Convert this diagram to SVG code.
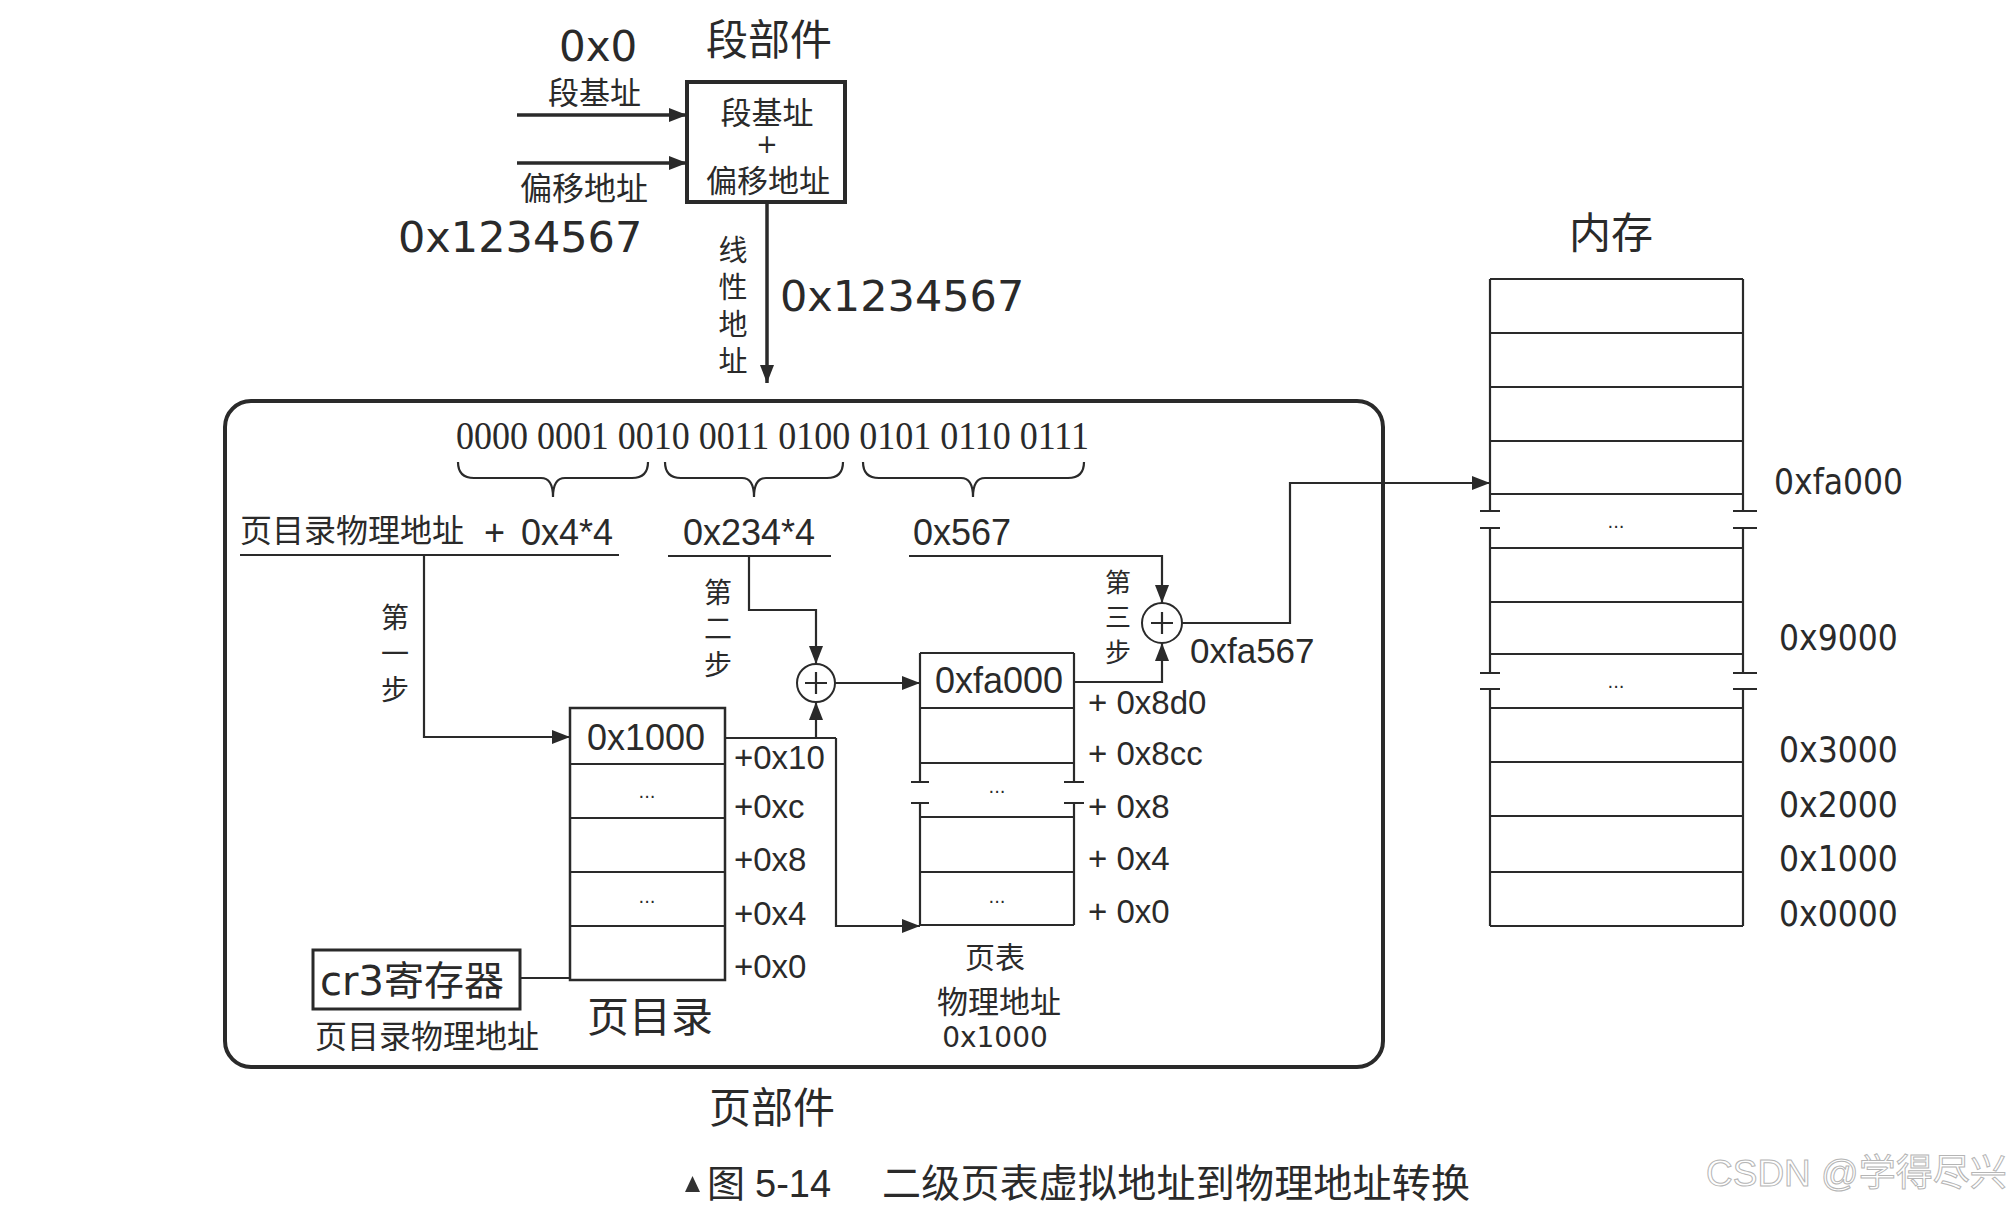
<svg xmlns="http://www.w3.org/2000/svg" width="2014" height="1206" viewBox="0 0 2014 1206">
<defs>
<style>
.ln{stroke:#2a2a2a;stroke-width:2.2;fill:none}
.th{stroke-width:3.5}
.bx{stroke:#2a2a2a;stroke-width:2.5;fill:#fff}
.cjk{font-family:"Noto Sans CJK SC",sans-serif;fill:#2a2a2a}
.dv{font-family:"DejaVu Sans","Noto Sans CJK SC",sans-serif;fill:#2a2a2a}
.dvc{font-family:"DejaVu Sans Condensed","DejaVu Sans",sans-serif;fill:#2a2a2a}
.ls{font-family:"Liberation Sans",Arial,sans-serif;fill:#2a2a2a}
.dots{font-family:"DejaVu Sans",sans-serif;font-size:18px;fill:#2a2a2a;text-anchor:middle}
.mid{text-anchor:middle}
.vt{font-family:"Noto Sans CJK SC",sans-serif;fill:#2a2a2a;writing-mode:vertical-rl;text-orientation:upright}
</style>
<marker id="ah" markerUnits="userSpaceOnUse" markerWidth="18" markerHeight="14" refX="18" refY="7" orient="auto">
<path d="M0,0 L18,7 L0,14 z" fill="#2a2a2a"/>
</marker>
</defs>
<rect width="2014" height="1206" fill="#fff"/>

<!-- Segment unit -->
<g id="seg-title"><text class="cjk" x="706" y="55" font-size="42">段部件</text></g>
<g id="seg-base-in">
<text class="dv" x="559" y="61" font-size="42">0x0</text>
<text class="cjk" x="548" y="104" font-size="31">段基址</text>
</g>
<g id="seg-offset-in">
<text class="cjk" x="520" y="200" font-size="32">偏移地址</text>
<text class="dv" x="398" y="252" font-size="43">0x1234567</text>
</g>
<g id="seg-box">
<rect x="687" y="82" width="158" height="120" fill="#fff" stroke="#2a2a2a" stroke-width="4"/>
<text class="cjk mid" x="767" y="124" font-size="31">段基址</text>
<text class="dv mid" x="767" y="153" font-size="26">+</text>
<text class="cjk mid" x="768" y="192" font-size="31">偏移地址</text>
</g>
<g id="linear-label">
<text class="vt" x="733" y="235" font-size="29" letter-spacing="8">线性地址</text>
<text class="dv" x="780" y="311" font-size="43">0x1234567</text>
</g>

<!-- Page unit frame -->
<g id="page-unit">
<rect x="225" y="401" width="1158" height="666" rx="26" fill="none" stroke="#2a2a2a" stroke-width="4"/>
<text class="cjk" x="709" y="1123" font-size="42">页部件</text>
</g>

<g id="binary">
<text x="456" y="449" font-family="'Liberation Serif',serif" font-size="40" fill="#2a2a2a" textLength="633" lengthAdjust="spacingAndGlyphs">0000 0001 0010 0011 0100 0101 0110 0111</text>
<path class="ln" d="M458,462 Q458,478 474,478 L541,478 Q553,478 553,497 Q553,478 565,478 L632,478 Q648,478 648,462"/>
<path class="ln" d="M665,462 Q665,478 681,478 L742,478 Q754,478 754,497 Q754,478 766,478 L827,478 Q843,478 843,462"/>
<path class="ln" d="M863,462 Q863,478 879,478 L961,478 Q973,478 973,497 Q973,478 985,478 L1068,478 Q1084,478 1084,462"/>
</g>

<g id="field-dir">
<text class="cjk" x="240" y="542" font-size="32">页目录物理地址</text>
<text class="ls" x="484" y="545" font-size="36">+</text>
<text class="ls" x="521" y="545" font-size="36">0x4*4</text>
<line class="ln" x1="240" y1="555" x2="619" y2="555"/>
</g>
<g id="field-table">
<text class="ls" x="683" y="545" font-size="36">0x234*4</text>
<line class="ln" x1="668" y1="556" x2="831" y2="556"/>
</g>
<g id="field-offset">
<text class="ls" x="913" y="545" font-size="36">0x567</text>
</g>

<!-- step labels -->
<g id="step1"><text class="vt" x="395" y="603" font-size="28" letter-spacing="8">第一步</text></g>
<g id="step2"><text class="vt" x="718" y="578" font-size="28" letter-spacing="8">第二步</text></g>
<g id="step3"><text class="vt" x="1118" y="569" font-size="26" letter-spacing="9">第三步</text></g>

<!-- adders -->
<g id="adder2">
<circle cx="816" cy="683" r="19" fill="#fff" stroke="#2a2a2a" stroke-width="2"/>
<path class="ln" d="M805,683 H827 M816,672 V694"/>
</g>
<g id="adder3">
<circle cx="1162" cy="623" r="20" fill="#fff" stroke="#2a2a2a" stroke-width="2"/>
<path class="ln" d="M1151,623 H1173 M1162,612 V634"/>
<text class="ls" x="1190" y="663" font-size="35">0xfa567</text>
</g>

<!-- page directory -->
<g id="page-dir">
<rect class="bx" x="570" y="708" width="155" height="272"/>
<path class="ln" d="M570,764 H725 M570,818 H725 M570,872 H725 M570,926 H725"/>
<text class="ls" x="587" y="750" font-size="36">0x1000</text>
<text class="dots" x="647" y="798">...</text>
<text class="dots" x="647" y="903">...</text>
<text class="ls" x="734" y="769" font-size="33">+0x10</text>
<text class="ls" x="734" y="818" font-size="33">+0xc</text>
<text class="ls" x="734" y="871" font-size="33">+0x8</text>
<text class="ls" x="734" y="925" font-size="33">+0x4</text>
<text class="ls" x="734" y="978" font-size="33">+0x0</text>
<text class="cjk" x="587" y="1032" font-size="42">页目录</text>
</g>

<!-- cr3 -->
<g id="cr3">
<rect x="313" y="950" width="207" height="59" fill="#fff" stroke="#2a2a2a" stroke-width="3"/>
<text class="dv" x="320" y="995" font-size="40">cr3寄存器</text>
<text class="cjk" x="315" y="1048" font-size="32">页目录物理地址</text>
</g>

<!-- page table -->
<g id="page-table">
<path class="ln" d="M920,653 H1074 M920,708 H1074 M920,763 H1074 M920,817 H1074 M920,872 H1074 M920,925 H1074"/>
<path class="ln" d="M920,653 V782 M920,803 V925 M1074,653 V782 M1074,803 V925"/>
<path class="ln" d="M911,782 H929 M911,803 H929 M1064,782 H1084 M1064,803 H1084"/>
<text class="ls" x="935" y="693" font-size="36">0xfa000</text>
<text class="dots" x="997" y="793">...</text>
<text class="dots" x="997" y="903">...</text>
<text class="ls" x="1088" y="714" font-size="33">+ 0x8d0</text>
<text class="ls" x="1088" y="765" font-size="33">+ 0x8cc</text>
<text class="ls" x="1088" y="818" font-size="33">+ 0x8</text>
<text class="ls" x="1088" y="870" font-size="33">+ 0x4</text>
<text class="ls" x="1088" y="923" font-size="33">+ 0x0</text>
<text class="cjk mid" x="995" y="968" font-size="30">页表</text>
<text class="cjk mid" x="999" y="1013" font-size="31">物理地址</text>
<text class="dv mid" x="995" y="1047" font-size="28">0x1000</text>
</g>

<!-- memory -->
<g id="memory">
<text class="cjk mid" x="1611" y="248" font-size="42">内存</text>
<path class="ln" d="M1490,279 H1743 M1490,333 H1743 M1490,387 H1743 M1490,441 H1743 M1490,494 H1743 M1490,548 H1743 M1490,602 H1743 M1490,654 H1743 M1490,708 H1743 M1490,762 H1743 M1490,816 H1743 M1490,872 H1743 M1490,926 H1743"/>
<path class="ln" d="M1490,279 V511 M1490,528 V673 M1490,689 V926 M1743,279 V511 M1743,528 V673 M1743,689 V926"/>
<path class="ln" d="M1480,511 H1500 M1480,528 H1500 M1480,673 H1500 M1480,689 H1500 M1733,511 H1757 M1733,528 H1757 M1733,673 H1757 M1733,689 H1757"/>
<text class="dots" x="1616" y="528">...</text>
<text class="dots" x="1616" y="688">...</text>
<text class="dvc" x="1774" y="494" font-size="35">0xfa000</text>
<text class="dvc" x="1779" y="650" font-size="35">0x9000</text>
<text class="dvc" x="1779" y="762" font-size="35">0x3000</text>
<text class="dvc" x="1779" y="817" font-size="35">0x2000</text>
<text class="dvc" x="1779" y="871" font-size="35">0x1000</text>
<text class="dvc" x="1779" y="926" font-size="35">0x0000</text>
</g>

<!-- connectors -->
<g id="connectors">
<line class="ln th" x1="517" y1="115" x2="687" y2="115" marker-end="url(#ah)"/>
<line class="ln th" x1="517" y1="163" x2="687" y2="163" marker-end="url(#ah)"/>
<line class="ln th" x1="767" y1="202" x2="767" y2="383" marker-end="url(#ah)"/>
<polyline class="ln" points="424,555 424,737 570,737" marker-end="url(#ah)"/>
<polyline class="ln" points="749,556 749,610 816,610 816,664" marker-end="url(#ah)"/>
<polyline class="ln" points="725,738 836,738"/>
<polyline class="ln" points="816,738 816,702" marker-end="url(#ah)"/>
<polyline class="ln" points="836,738 836,926 920,926" marker-end="url(#ah)"/>
<polyline class="ln" points="835,683 920,683" marker-end="url(#ah)"/>
<polyline class="ln" points="909,556 1162,556 1162,603" marker-end="url(#ah)"/>
<polyline class="ln" points="1074,682 1162,682 1162,643" marker-end="url(#ah)"/>
<polyline class="ln" points="1182,623 1290,623 1290,483 1490,483" marker-end="url(#ah)"/>
<line class="ln" x1="520" y1="978" x2="570" y2="978"/>
</g>

<!-- caption -->
<g id="caption">
<path d="M685,1192 L692.5,1176 L700,1192 z" fill="#333"/>
<text class="cjk" x="707" y="1197" font-size="38" fill="#333">图</text>
<text class="ls" x="755" y="1197" font-size="38" fill="#333">5-14</text>
<text class="cjk" x="882" y="1197" font-size="39" fill="#333" textLength="588" lengthAdjust="spacing">二级页表虚拟地址到物理地址转换</text>
</g>
<g id="watermark">
<text x="1706" y="1186" font-family="'Liberation Sans','Noto Sans CJK SC',sans-serif" font-size="37" fill="#fff" stroke="#b5b5b5" stroke-width="1">CSDN @学得尽兴</text>
</g>
</svg>
